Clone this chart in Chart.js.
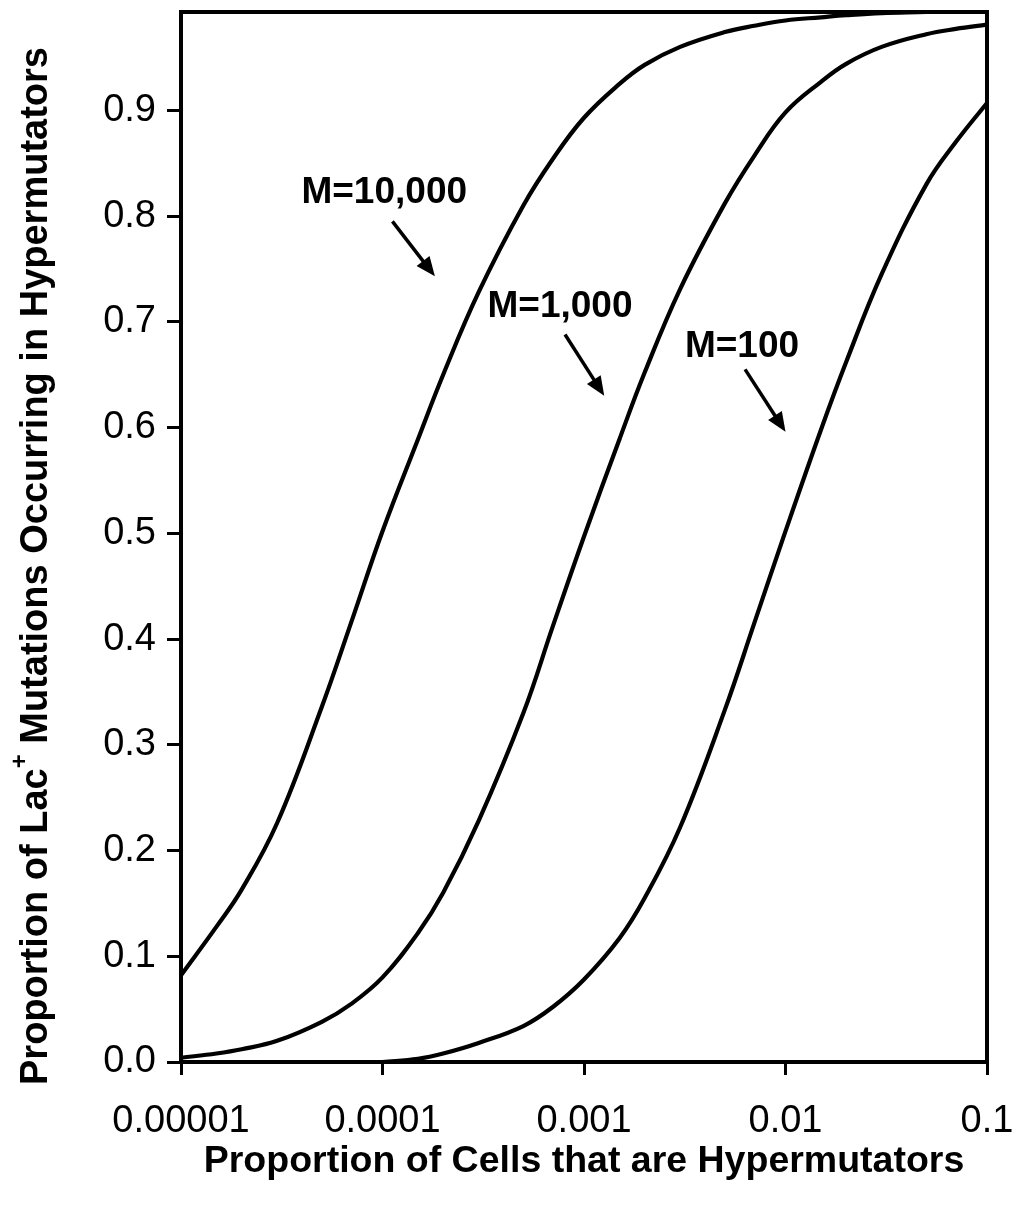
<!DOCTYPE html>
<html>
<head>
<meta charset="utf-8">
<script src="https://cdn.jsdelivr.net/npm/chart.js@4.4.1/dist/chart.umd.min.js"></script>
<style>
  html, body { margin: 0; padding: 0; background: #fff; }
  #wrap { width: 1014px; height: 1205px; }
</style>
</head>
<body>
<div id="wrap"><canvas id="chart"></canvas></div>
<script>
// proportion of cells that are hypermutators (x)
const cellFraction = [
  0.00001, 0.000015, 0.00002, 0.00003, 0.00005, 0.00007,
  0.0001, 0.00015, 0.0002, 0.0003, 0.0005, 0.0007,
  0.001, 0.0015, 0.002, 0.003, 0.005, 0.007,
  0.01, 0.015, 0.02, 0.03, 0.05, 0.07,
  0.1
];
// proportion of Lac+ mutations occurring in hypermutators
const m10000 = [0.082, 0.128, 0.163, 0.226, 0.336, 0.416,
                0.502, 0.589, 0.650, 0.728, 0.810, 0.854,
                0.893, 0.925, 0.943, 0.960, 0.974, 0.980,
                0.985, 0.988, 0.990, 0.992, 0.993, 0.994, 0.995];
const m1000  = [0.004, 0.008, 0.012, 0.020, 0.038, 0.055,
                0.080, 0.122, 0.160, 0.228, 0.330, 0.412,
                0.497, 0.589, 0.652, 0.731, 0.812, 0.857,
                0.898, 0.927, 0.944, 0.960, 0.972, 0.977, 0.981];
const m100   = [null, null, null, null, null, null,
                0.000, 0.003, 0.008, 0.018, 0.034, 0.052,
                0.078, 0.117, 0.155, 0.222, 0.333, 0.415,
                0.502, 0.598, 0.662, 0.745, 0.830, 0.870, 0.907];

const xTicks = [0.00001, 0.0001, 0.001, 0.01, 0.1];
const xTickLabels = ['0.00001', '0.0001', '0.001', '0.01', '0.1'];
const yTicks = [0, 0.1, 0.2, 0.3, 0.4, 0.5, 0.6, 0.7, 0.8, 0.9];

// curve labels: text, label position, arrow start, arrow end (data coords)
const curveLabels = ['M=10,000', 'M=1,000', 'M=100'];
const labelAt = [[0.000102, 0.822], [0.00076, 0.714], [0.00608, 0.676]];
const arrowFrom = [[0.000112, 0.795], [0.000805, 0.688], [0.0063, 0.655]];
const arrowTo = [[0.000182, 0.743], [0.00126, 0.630], [0.0100, 0.596]];

const FONT = '"Liberation Sans", Arial, sans-serif';

function series(values) {
  return values.map((v, i) => ({ x: cellFraction[i], y: v }));
}

const extras = {
  id: 'extras',
  afterDraw(chart) {
    const { ctx, chartArea: a, scales: { x, y } } = chart;
    ctx.save();
    // frame
    ctx.strokeStyle = '#000';
    ctx.lineWidth = 4;
    ctx.strokeRect(a.left, a.top, a.right - a.left, a.bottom - a.top);

    // curve labels and arrows
    ctx.fillStyle = '#000';
    ctx.font = 'bold 37px ' + FONT;
    ctx.textAlign = 'center';
    ctx.textBaseline = 'middle';
    curveLabels.forEach((t, i) => {
      ctx.fillText(t, x.getPixelForValue(labelAt[i][0]), y.getPixelForValue(labelAt[i][1]));
      const x0 = x.getPixelForValue(arrowFrom[i][0]), y0 = y.getPixelForValue(arrowFrom[i][1]);
      const x1 = x.getPixelForValue(arrowTo[i][0]), y1 = y.getPixelForValue(arrowTo[i][1]);
      const ang = Math.atan2(y1 - y0, x1 - x0);
      const head = 21, half = 0.4;
      ctx.lineWidth = 3.5;
      ctx.beginPath();
      ctx.moveTo(x0, y0);
      ctx.lineTo(x1 - Math.cos(ang) * head * 0.8, y1 - Math.sin(ang) * head * 0.8);
      ctx.stroke();
      ctx.beginPath();
      ctx.moveTo(x1, y1);
      ctx.lineTo(x1 - head * Math.cos(ang - half), y1 - head * Math.sin(ang - half));
      ctx.lineTo(x1 - head * Math.cos(ang + half), y1 - head * Math.sin(ang + half));
      ctx.closePath();
      ctx.fill();
    });

    // x title
    ctx.font = 'bold 37.5px ' + FONT;
    ctx.fillText('Proportion of Cells that are Hypermutators', (a.left + a.right) / 2, 1162);

    // y title with superscript
    const p1 = 'Proportion of Lac', sup = '+', p2 = ' Mutations Occurring in Hypermutators';
    ctx.font = 'bold 38px ' + FONT;
    const w1 = ctx.measureText(p1).width, w2 = ctx.measureText(p2).width;
    ctx.font = 'bold 24px ' + FONT;
    const ws = ctx.measureText(sup).width;
    const total = w1 + ws + w2;
    ctx.translate(37, 566);
    ctx.rotate(-Math.PI / 2);
    ctx.textAlign = 'left';
    let cx = -total / 2;
    ctx.font = 'bold 38px ' + FONT;
    ctx.fillText(p1, cx, 0);
    cx += w1;
    ctx.font = 'bold 24px ' + FONT;
    ctx.fillText(sup, cx, -17);
    cx += ws;
    ctx.font = 'bold 38px ' + FONT;
    ctx.fillText(p2, cx, 0);
    ctx.restore();
  }
};

const lineStyle = {
  borderColor: '#000',
  borderWidth: 4.2,
  pointRadius: 0,
  fill: false,
  tension: 0.4,
  spanGaps: false
};

new Chart(document.getElementById('chart'), {
  type: 'line',
  data: {
    datasets: [
      { label: 'M=10,000', data: series(m10000), ...lineStyle },
      { label: 'M=1,000', data: series(m1000), ...lineStyle },
      { label: 'M=100', data: series(m100), ...lineStyle }
    ]
  },
  options: {
    responsive: true,
    maintainAspectRatio: false,
    animation: false,
    layout: { padding: { top: 12, right: 27, left: 0, bottom: 0 } },
    plugins: { legend: { display: false }, tooltip: { enabled: false } },
    scales: {
      x: {
        type: 'logarithmic',
        min: 0.00001,
        max: 0.1,
        afterBuildTicks: s => { s.ticks = xTicks.map(v => ({ value: v })); },
        afterFit: s => { s.height = 143; s.paddingLeft = 0; s.paddingRight = 0; },
        ticks: {
          autoSkip: false,
          maxRotation: 0,
          color: '#000',
          padding: 24,
          font: { family: FONT, size: 38 },
          callback: (v) => xTickLabels[xTicks.findIndex(t => Math.abs(Math.log10(t) - Math.log10(v)) < 1e-6)]
        },
        grid: { drawOnChartArea: false, drawTicks: true, tickLength: 13, color: '#000', lineWidth: 3 },
        border: { display: true, color: '#000', width: 4 }
      },
      y: {
        type: 'linear',
        min: 0,
        max: 0.993,
        afterBuildTicks: s => { s.ticks = yTicks.map(v => ({ value: v })); },
        afterFit: s => { s.width = 181; s.paddingTop = 0; s.paddingBottom = 0; },
        ticks: {
          color: '#000',
          padding: 11,
          font: { family: FONT, size: 38 },
          callback: v => v.toFixed(1)
        },
        grid: { drawOnChartArea: false, drawTicks: true, tickLength: 14, color: '#000', lineWidth: 3 },
        border: { display: true, color: '#000', width: 4 }
      }
    }
  },
  plugins: [extras]
});
</script>
</body>
</html>
